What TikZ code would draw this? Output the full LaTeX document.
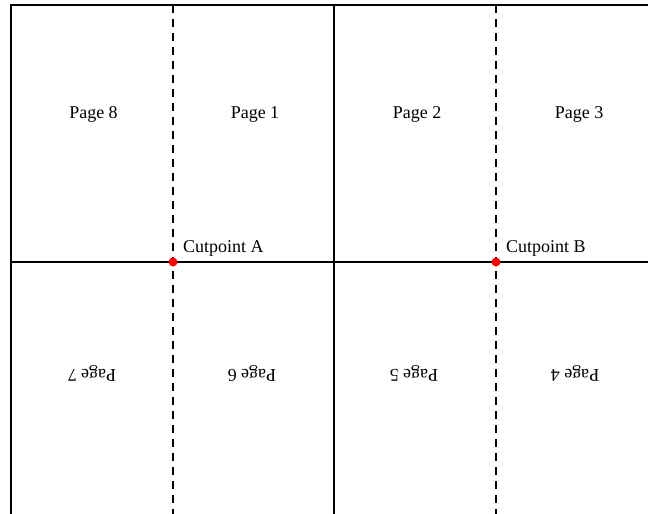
\documentclass[tikz,border=0pt]{standalone}
\usepackage{fontspec}
\setmainfont{Liberation Serif}
\begin{document}
\begin{tikzpicture}[x=1pt,y=-1pt,
  solidline/.style={line width=1.1pt},
  cutline/.style={line width=1.1pt, dash pattern=on 8pt off 6pt},
  pagelabel/.style={font=\fontsize{18}{21}\selectfont, anchor=base, inner sep=0pt},
  flippedlabel/.style={pagelabel, rotate=180},
  cutlabel/.style={font=\fontsize{18}{21}\selectfont, anchor=base west, inner sep=0pt},
  cutdot/.style={circle, fill=red, inner sep=0pt, minimum size=9pt}]
\useasboundingbox (0,0) rectangle (648,514);
\begin{scope}
\clip (0,0) rectangle (648,514);
% grid corners
\coordinate (tl) at (11,5);
\coordinate (tr) at (680,5);
\coordinate (bl) at (11,540);
\coordinate (ml) at (11,262);
\coordinate (mr) at (680,262);
\coordinate (ctop) at (334,5);
\coordinate (cbot) at (334,540);
\coordinate (atop) at (173,5);
\coordinate (abot) at (173,540);
\coordinate (btop) at (496,5);
\coordinate (bbot) at (496,540);
\draw[solidline] (bl) -- (tl) -- (tr);
\draw[solidline] (ml) -- (mr);
\draw[solidline] (ctop) -- (cbot);
\draw[cutline] (atop) -- (abot);
\draw[cutline] (btop) -- (bbot);
\end{scope}
\node[cutdot] (cpA) at (173,262) {};
\node[cutdot] (cpB) at (496,262) {};
\node[cutlabel] (labA) at (183,252) {Cutpoint A};
\node[cutlabel] (labB) at (506,252) {Cutpoint B};
\node[pagelabel] (p8) at (93.5,118) {Page 8};
\node[pagelabel] (p1) at (255,118) {Page 1};
\node[pagelabel] (p2) at (417,118) {Page 2};
\node[pagelabel] (p3) at (579,118) {Page 3};
\node[flippedlabel] (p7) at (92,369) {Page 7};
\node[flippedlabel] (p6) at (252,369) {Page 6};
\node[flippedlabel] (p5) at (414,369) {Page 5};
\node[flippedlabel] (p4) at (575,369) {Page 4};
\end{tikzpicture}
\end{document}
